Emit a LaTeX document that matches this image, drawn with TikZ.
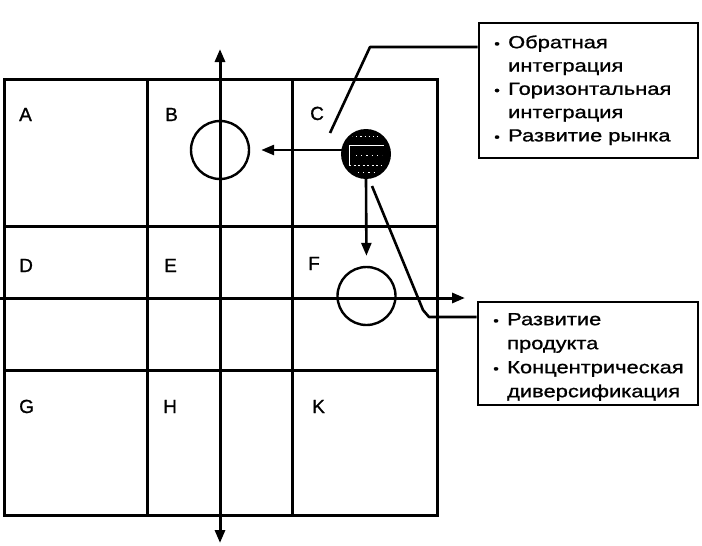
\documentclass[tikz,border=0pt]{standalone}
\usepackage{fontspec}
\setmainfont[FakeBold=1]{Liberation Sans}
\newfontfamily\boxfont[FakeStretch=1.25,FakeBold=1]{Liberation Sans}
\usetikzlibrary{arrows.meta,calc}
\begin{document}
\begin{tikzpicture}[x=1pt,y=-1pt,
  gridline/.style={line width=3pt},
  ring/.style={circle,draw,line width=2.4pt,minimum size=58pt,inner sep=0pt},
  arrowline/.style={line width=2.6pt,-{Triangle[length=13pt,width=10pt]}},
  cell/.style={anchor=base west,font=\fontsize{19}{22}\selectfont,inner sep=0pt},
  infobox/.style={draw,line width=2.8pt,inner sep=0pt},
  info/.style={anchor=north west,inner sep=0pt,align=left},
  lead/.style={line width=2.6pt,line join=round}]
\useasboundingbox (0,0) rectangle (702,546);
% grid
\draw[gridline] (4,79) rectangle (437,515);
\draw[gridline] (147,79) -- (147,515);
\draw[gridline] (292,79) -- (292,515);
\draw[gridline] (4,226) -- (437,226);
\draw[gridline] (4,370) -- (437,370);
% axes
\coordinate (vtop) at (220,49);
\coordinate (vbot) at (220,543);
\coordinate (hl) at (0,298);
\coordinate (hr) at (465,298);
\draw[gridline,{Triangle[length=13pt,width=10pt]}-{Triangle[length=13pt,width=10pt]}] (vbot) -- (vtop);
\draw[arrowline,line width=3pt] (hl) -- (hr);
% cell labels
\node[cell] (la) at (19,121) {A};
\node[cell] (lb) at (165,121) {B};
\node[cell] (lc) at (310,120) {C};
\node[cell] (ld) at (19,272) {D};
\node[cell] (le) at (164,272) {E};
\node[cell] (lf) at (308,270) {F};
\node[cell] (lg) at (19,413) {G};
\node[cell] (lh) at (163,413) {H};
\node[cell] (lk) at (312,413) {K};
% circles
\node[ring] (cb) at (220,150) {};
\node[ring] (cf) at (366.5,296) {};
\node[circle,fill=black,minimum size=50pt,inner sep=0pt] (cc) at (366,154) {};
\begin{scope}
  \clip (cc.center) circle (22pt);
  \draw[white,line width=0.9pt,dash pattern=on 1.2pt off 3pt] (352,136) -- (382,136);
  \draw[white,line width=1pt] (349,145) -- (384,145);
  \draw[white,line width=1pt] (349,145) -- (349,165);
  \draw[white,line width=0.9pt,dash pattern=on 1.2pt off 4pt] (356,155) -- (382,155);
  \draw[white,line width=0.9pt,dash pattern=on 2pt off 2.5pt] (349,165) -- (382,165);
  \draw[white,line width=0.9pt,dash pattern=on 1.2pt off 4pt] (358,172) -- (376,172);
\end{scope}
% arrows from the filled circle
\draw[arrowline,shorten <=-5pt,shorten >=11pt] (cc.west |- cb.east) -- (cb.east);
\draw[arrowline,shorten >=10pt] (cc.south) -- (cf.north);
% info boxes
\node[infobox,minimum width=219pt,minimum height=135pt] (tbox) at (588.5,90.5) {};
\node[infobox,minimum width=220pt,minimum height=103pt] (bbox) at (588,353.5) {};
\node[info,font=\boxfont\fontsize{17.5}{23.3}\selectfont] (ttext) at (494,31.7)
  {\begin{tabular}{@{}p{14pt}@{}l@{}}
   {\fontsize{13}{13}\selectfont•}&Обратная\\
   &интеграция\\
   {\fontsize{13}{13}\selectfont•}&Горизонтальная\\
   &интеграция\\
   {\fontsize{13}{13}\selectfont•}&Развитие рынка
   \end{tabular}};
\node[info,font=\boxfont\fontsize{17.5}{24}\selectfont] (btext) at (493,308.2)
  {\begin{tabular}{@{}p{14pt}@{}l@{}}
   {\fontsize{13}{13}\selectfont•}&Развитие\\
   &продукта\\
   {\fontsize{13}{13}\selectfont•}&Концентрическая\\
   &диверсификация
   \end{tabular}};
% leader lines
\coordinate (tk) at (370,47);
\coordinate (tend) at (330,133);
\draw[lead] (tbox.west |- tk) -- (tk) -- (tend);
\coordinate (bk1) at (429,317);
\coordinate (bk2) at (423,310);
\coordinate (bend) at (372,186);
\draw[lead] (bbox.west |- bk1) -- (bk1) -- (bk2) -- (bend);
\end{tikzpicture}
\end{document}
